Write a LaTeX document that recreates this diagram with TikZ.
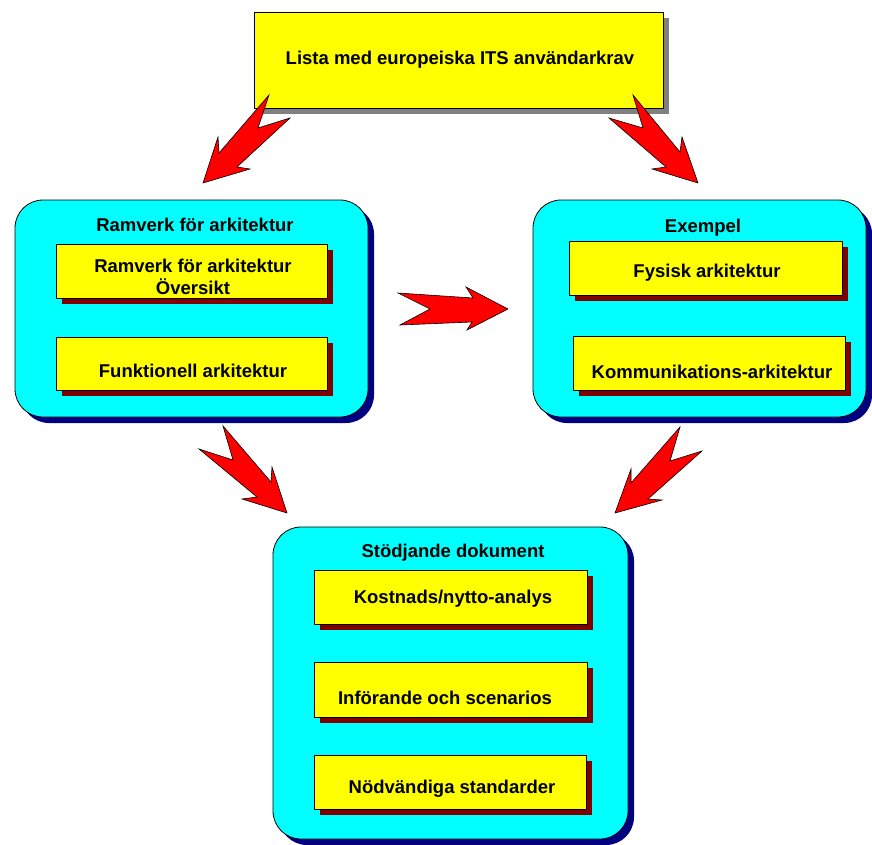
\documentclass[tikz,border=0pt]{standalone}
\usepackage{fontspec}
\setmainfont{Liberation Sans}
\usetikzlibrary{shadows}
\definecolor{cyanbox}{HTML}{00FFFF}
\definecolor{yellowbox}{HTML}{FFFF00}
\definecolor{navyshadow}{HTML}{000080}
\definecolor{redshadow}{HTML}{800000}
\definecolor{grayshadow}{HTML}{808080}
\definecolor{arrowred}{HTML}{FF0000}
\begin{document}
\begin{tikzpicture}[x=1pt,y=-1pt,
  cbox/.style={draw=black, line width=0.8pt, fill=cyanbox, rounded corners=28pt, inner sep=0pt,
    general shadow={shadow xshift=6pt, shadow yshift=-6pt, fill=navyshadow}},
  ybx/.style={draw=black, line width=0.8pt, fill=yellowbox, inner sep=0pt,
    general shadow={shadow xshift=6pt, shadow yshift=-6pt, fill=redshadow}},
  topbx/.style={draw=black, line width=0.8pt, fill=yellowbox, inner sep=0pt,
    general shadow={shadow xshift=6pt, shadow yshift=-6pt, fill=grayshadow}},
  txt/.style={font=\bfseries\fontsize{18.5}{22}\selectfont, align=center, inner sep=0pt, yshift=-2pt},
  zarrow/.style={fill=arrowred, draw=black, line width=0.6pt, line join=miter}
]
\useasboundingbox (0,0) rectangle (872,845);

% top box
\node[topbx, minimum width=409pt, minimum height=96pt] (top) at (458.5,60) {};
\node[txt] (toptxt) at (460,58) {Lista med europeiska ITS användarkrav};

% left group
\node[cbox, minimum width=353pt, minimum height=217pt] (left) at (191.5,308.5) {};
\node[txt] (lefttitle) at (195,223) {Ramverk för arkitektur};
\node[ybx, minimum width=271pt, minimum height=54pt] (l1) at (191.5,271) {};
\node[txt] (l1t) at (193,275) {Ramverk för arkitektur\\Översikt};
\node[ybx, minimum width=271pt, minimum height=53pt] (l2) at (191.5,363.5) {};
\node[txt] (l2t) at (193,369) {Funktionell arkitektur};

% right group
\node[cbox, minimum width=333pt, minimum height=217pt] (right) at (699.5,308.5) {};
\node[txt] (righttitle) at (703,226) {Exempel};
\node[ybx, minimum width=273pt, minimum height=54pt] (r1) at (705.5,268) {};
\node[txt] (r1t) at (707,271) {Fysisk arkitektur};
\node[ybx, minimum width=272pt, minimum height=54pt] (r2) at (709,363) {};
\node[txt] (r2t) at (712,370) {Kommunikations-arkitektur};

% bottom group
\node[cbox, minimum width=355pt, minimum height=312pt] (bottom) at (450.5,683) {};
\node[txt] (bottomtitle) at (453,551) {Stödjande dokument};
\node[ybx, minimum width=273pt, minimum height=54pt] (b1) at (450.5,597) {};
\node[txt] (b1t) at (453,597) {Kostnads/nytto-analys};
\node[ybx, minimum width=273pt, minimum height=55pt] (b2) at (450.5,689.5) {};
\node[txt] (b2t) at (445,696) {Införande och scenarios};
\node[ybx, minimum width=272pt, minimum height=54pt] (b3) at (450,782) {};
\node[txt] (b3t) at (452,787) {Nödvändiga standarder};

% block arrows
\draw[zarrow] (269,95) -- (258,128) -- (290,118) -- (237,167) -- (250,169)
  -- (203,183) -- (218,137) -- (219,153) -- cycle;
\draw[zarrow] (633,95) -- (680,152) -- (682,137) -- (698,183) -- (652,169)
  -- (666,167) -- (609,118) -- (643,128) -- cycle;
\draw[zarrow] (398,293) -- (430,309) -- (400,325) -- (472,322) -- (467,330)
  -- (508,309) -- (466,287) -- (473,298) -- cycle;
\draw[zarrow] (223,426) -- (271,482) -- (272,467) -- (287,513) -- (242,499)
  -- (257,497) -- (199,449) -- (233,460) -- cycle;
\draw[zarrow] (680,427) -- (670,461) -- (702,451) -- (648,499) -- (662,500)
  -- (615,513) -- (631,469) -- (631,483) -- cycle;
\end{tikzpicture}
\end{document}
